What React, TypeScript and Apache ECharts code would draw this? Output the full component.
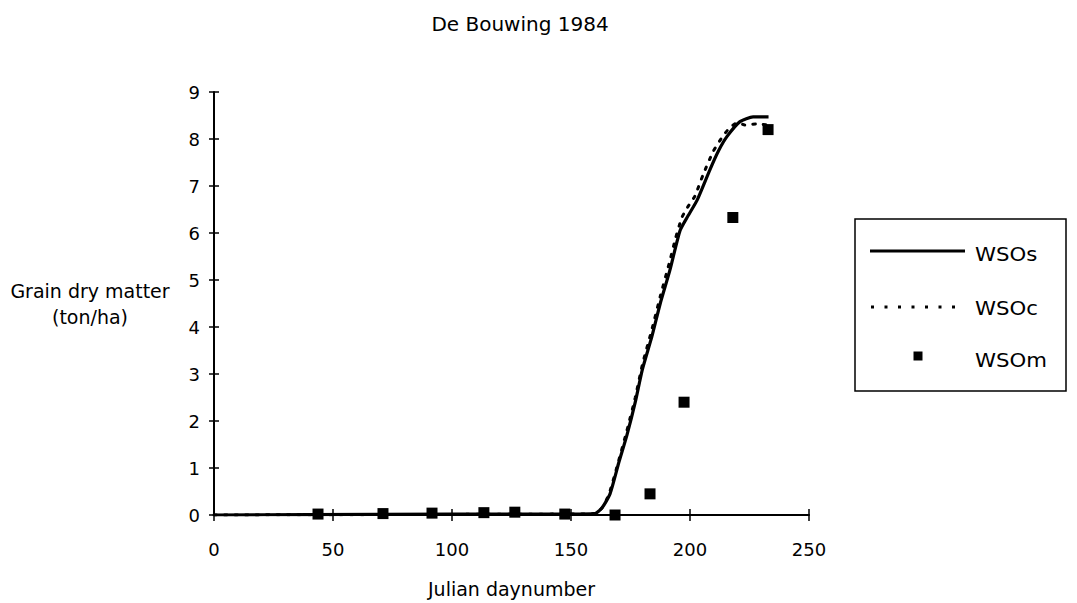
import React, { useEffect, useRef } from "react";
import * as echarts from "echarts";

const titleText = "De Bouwing 1984";
const xName = "Julian daynumber";
const yName = "Grain dry matter\n(ton/ha)";

// WSOs (simulated, solid)
const wsosDays = [0, 40, 100, 150, 160, 163, 166.4, 170, 173.5, 177, 180, 184, 187.5, 191.5, 195.8, 199, 203, 208.4, 212, 215.5, 221, 226.5, 233];
const wsosVals = [0, 0.01, 0.02, 0.02, 0.03, 0.15, 0.45, 1.1, 1.7, 2.4, 3.1, 3.8, 4.5, 5.2, 6.05, 6.35, 6.7, 7.35, 7.75, 8.05, 8.37, 8.47, 8.47];

// WSOc (calibrated, dotted)
const wsocDays = [0, 150, 160, 163, 166, 170, 173.5, 177, 180, 184, 187.5, 191.5, 194, 196.6, 199, 202, 205.5, 209.7, 213, 216, 220, 223, 228, 233];
const wsocVals = [0, 0.02, 0.03, 0.15, 0.45, 1.15, 1.8, 2.5, 3.2, 3.95, 4.65, 5.4, 5.9, 6.33, 6.55, 6.78, 7.24, 7.73, 8.0, 8.2, 8.35, 8.3, 8.32, 8.3];

// WSOm (measured, squares)
const wsomDays = [43.7, 71, 91.6, 113.4, 126.4, 147.4, 168.5, 183.2, 197.5, 218, 232.8];
const wsomVals = [0.02, 0.03, 0.04, 0.05, 0.06, 0.02, 0.0, 0.45, 2.4, 6.33, 8.2];

const seriesNames = ["WSOs", "WSOc", "WSOm"];

const FONT = "DejaVu Sans";

function zip(xs: number[], ys: number[]) {
  return xs.map((x, i) => [x, ys[i]]);
}

export default function App() {
  const ref = useRef<HTMLDivElement>(null);
  useEffect(() => {
    if (!ref.current) return;
    const chart = echarts.init(ref.current, undefined, { renderer: "svg" });
    const axisCommon = {
      type: "value" as const,
      splitLine: { show: false },
    };
    chart.setOption({
      animation: false,
      backgroundColor: "#fff",
      title: {
        text: titleText,
        left: 515,
        top: 9,
        textAlign: "center",
        textStyle: { fontFamily: FONT, fontSize: 20, fontWeight: "normal", color: "#000" },
      },
      grid: { left: 214, right: 268, top: 92, bottom: 86, containLabel: false },
      xAxis: [
        {
          ...axisCommon,
          min: 0,
          max: 250,
          interval: 50,
          position: "bottom",
          name: xName,
          nameLocation: "middle",
          nameGap: 64,
          nameTextStyle: { fontFamily: FONT, fontSize: 19, color: "#000" },
          axisLine: { show: true, onZero: false, lineStyle: { color: "#000", width: 2 } },
          axisTick: { show: true, inside: false, length: 6, lineStyle: { color: "#000", width: 1.5 } },
          axisLabel: { fontFamily: FONT, fontSize: 18, color: "#000", margin: 25 },
        },
        {
          ...axisCommon,
          min: 0,
          max: 250,
          interval: 50,
          position: "bottom",
          axisLine: { show: false, onZero: false },
          axisTick: { show: true, inside: true, length: 6, lineStyle: { color: "#000", width: 1.5 } },
          axisLabel: { show: false },
        },
      ],
      yAxis: [
        {
          ...axisCommon,
          min: 0,
          max: 9,
          interval: 1,
          position: "left",
          name: yName,
          nameLocation: "middle",
          nameRotate: 0,
          nameGap: 124,
          nameTextStyle: { fontFamily: FONT, fontSize: 19, color: "#000", align: "center", lineHeight: 26 },
          axisLine: { show: true, onZero: false, lineStyle: { color: "#000", width: 2 } },
          axisTick: { show: true, inside: false, length: 5, lineStyle: { color: "#000", width: 1.5 } },
          axisLabel: { fontFamily: FONT, fontSize: 18, color: "#000", margin: 14 },
        },
        {
          ...axisCommon,
          min: 0,
          max: 9,
          interval: 1,
          position: "left",
          axisLine: { show: false, onZero: false },
          axisTick: { show: true, inside: true, length: 5, lineStyle: { color: "#000", width: 1.5 } },
          axisLabel: { show: false },
        },
      ],
      series: [
        {
          name: seriesNames[0],
          type: "line",
          xAxisIndex: 0,
          yAxisIndex: 0,
          data: zip(wsosDays, wsosVals),
          symbol: "none",
          smooth: 0.2,
          lineStyle: { color: "#000", width: 3.2, type: "solid" },
          z: 3,
        },
        {
          name: seriesNames[1],
          type: "line",
          xAxisIndex: 0,
          yAxisIndex: 0,
          data: zip(wsocDays, wsocVals),
          symbol: "none",
          smooth: 0.2,
          lineStyle: { color: "#000", width: 3, type: [2.5, 8], cap: "round" },
          z: 2,
        },
        {
          name: seriesNames[2],
          type: "scatter",
          xAxisIndex: 0,
          yAxisIndex: 0,
          data: zip(wsomDays, wsomVals),
          symbol: "rect",
          symbolSize: 11,
          itemStyle: { color: "#000", opacity: 1 },
          z: 4,
        },
      ],
      graphic: [
        {
          type: "rect",
          shape: { x: 855, y: 219, width: 211, height: 172 },
          style: { fill: "#fff", stroke: "#000", lineWidth: 1.5 },
        },
        {
          type: "line",
          shape: { x1: 870, y1: 251, x2: 965, y2: 251 },
          style: { stroke: "#000", lineWidth: 3 },
        },
        {
          type: "line",
          shape: { x1: 871, y1: 307, x2: 965, y2: 307 },
          style: { stroke: "#000", lineWidth: 3, lineDash: [3, 10.5], lineCap: "butt" },
        },
        {
          type: "rect",
          shape: { x: 913.5, y: 351.5, width: 9, height: 9 },
          style: { fill: "#000" },
        },
        {
          type: "text",
          x: 975,
          y: 254,
          scaleX: 1.12,
          style: { text: seriesNames[0], fontFamily: FONT, fontSize: 19, fill: "#000", textAlign: "left", textVerticalAlign: "middle" },
        },
        {
          type: "text",
          x: 975,
          y: 308,
          scaleX: 1.12,
          style: { text: seriesNames[1], fontFamily: FONT, fontSize: 19, fill: "#000", textAlign: "left", textVerticalAlign: "middle" },
        },
        {
          type: "text",
          x: 975,
          y: 360,
          scaleX: 1.12,
          style: { text: seriesNames[2], fontFamily: FONT, fontSize: 19, fill: "#000", textAlign: "left", textVerticalAlign: "middle" },
        },
      ],
    });
    return () => chart.dispose();
  }, []);
  return (
    <div
      ref={ref}
      style={{ position: "fixed", left: 0, top: 0, width: 1077, height: 603, background: "#fff" }}
    />
  );
}
